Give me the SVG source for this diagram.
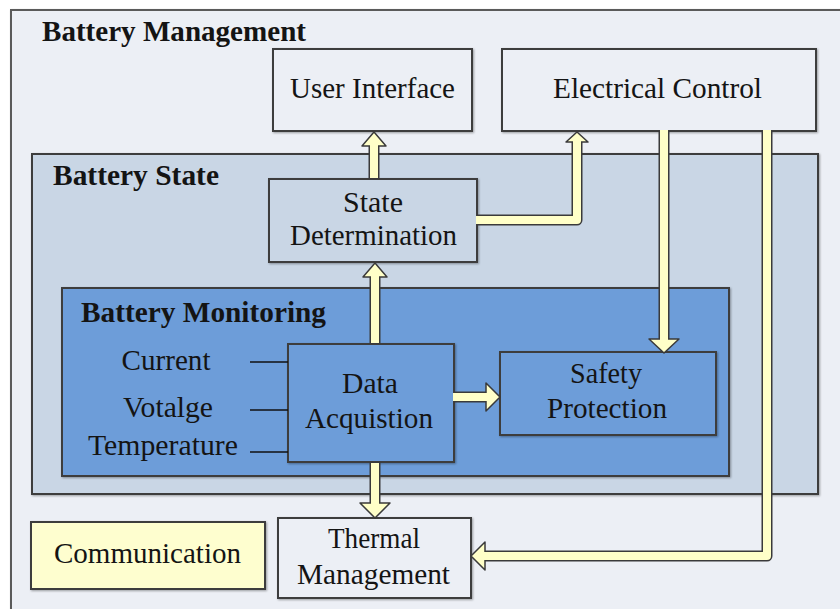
<svg xmlns="http://www.w3.org/2000/svg" width="840" height="609" viewBox="0 0 840 609">
<defs>
<filter id="sh" x="-5%" y="-5%" width="110%" height="110%"><feDropShadow dx="1" dy="1" stdDeviation="1" flood-color="#000" flood-opacity="0.35"/></filter>
</defs>
<style>
.box{stroke:#3c3c3c;stroke-width:2;filter:url(#sh)}
.outer{stroke:#5a5a5a}
.light{fill:#eceff5}
.state{fill:#c9d6e5}
.mon{fill:#6d9dd9}
.comm{fill:#fefecf}
text{font-family:"Liberation Serif","Times New Roman",serif;fill:#141414}
.t{font-size:29px;text-anchor:middle}
.h{font-size:29px;font-weight:bold}
.s{font-size:30px;text-anchor:middle}
.so{fill:none;stroke:#3a3a3a;stroke-width:11;stroke-linejoin:round}
.sf{fill:none;stroke:#ffffc8;stroke-width:8;stroke-linejoin:round}
.hd{fill:#ffffc8;stroke:#3a3a3a;stroke-width:1.5;stroke-linejoin:round}
.ln{stroke:#111;stroke-width:1.5}
</style>
<rect width="840" height="609" fill="#ffffff"/>
<g id="battery-management">
<rect class="box light outer" x="11" y="10" width="840" height="620"/>
<text class="h" x="42" y="41" textLength="264" lengthAdjust="spacingAndGlyphs">Battery Management</text>
</g>
<g id="user-interface">
<rect class="box light" x="273" y="49" width="199" height="82"/>
<text class="t" x="372.5" y="98" textLength="165" lengthAdjust="spacingAndGlyphs">User Interface</text>
</g>
<g id="electrical-control">
<rect class="box light" x="502" y="49" width="314" height="82"/>
<text class="t" x="657.5" y="98" textLength="209" lengthAdjust="spacingAndGlyphs">Electrical Control</text>
</g>
<g id="battery-state">
<rect class="box state" x="32" y="154" width="786" height="340"/>
<text class="h" x="53" y="185" textLength="166" lengthAdjust="spacingAndGlyphs">Battery State</text>
</g>
<g id="state-determination">
<rect class="box state" x="269" y="179" width="208" height="83"/>
<text class="t" x="373" y="212" textLength="60" lengthAdjust="spacingAndGlyphs">State</text>
<text class="t" x="373.5" y="245" textLength="167" lengthAdjust="spacingAndGlyphs">Determination</text>
</g>
<g id="battery-monitoring">
<rect class="box mon" x="62" y="288" width="667" height="188"/>
<text class="h" x="81" y="322" textLength="245" lengthAdjust="spacingAndGlyphs">Battery Monitoring</text>
</g>
<g id="data-acquisition">
<rect class="box mon" x="288" y="344" width="166" height="118"/>
<text class="t" x="370" y="393" textLength="56" lengthAdjust="spacingAndGlyphs">Data</text>
<text class="t" x="369" y="428" textLength="128" lengthAdjust="spacingAndGlyphs">Acquistion</text>
</g>
<g id="safety-protection">
<rect class="box mon" x="500" y="352" width="216" height="83"/>
<text class="t" x="606" y="383" textLength="72" lengthAdjust="spacingAndGlyphs">Safety</text>
<text class="t" x="607" y="418" textLength="120" lengthAdjust="spacingAndGlyphs">Protection</text>
</g>
<g id="inputs">
<text class="s" x="166" y="370" textLength="89" lengthAdjust="spacingAndGlyphs">Current</text>
<text class="s" x="168" y="417" textLength="90" lengthAdjust="spacingAndGlyphs">Votalge</text>
<text class="s" x="163" y="455" textLength="150" lengthAdjust="spacingAndGlyphs">Temperature</text>
<line class="ln" x1="250" y1="362" x2="288" y2="362"/>
<line class="ln" x1="250" y1="410" x2="288" y2="410"/>
<line class="ln" x1="250" y1="452" x2="288" y2="452"/>
</g>
<g id="communication">
<rect class="box comm" x="31" y="522" width="234" height="67"/>
<text class="t" x="147.5" y="563" textLength="187" lengthAdjust="spacingAndGlyphs">Communication</text>
</g>
<g id="thermal-management">
<rect class="box light" x="278" y="518" width="193" height="80"/>
<text class="t" x="374" y="548" textLength="92" lengthAdjust="spacingAndGlyphs">Thermal</text>
<text class="t" x="373.5" y="584" textLength="153" lengthAdjust="spacingAndGlyphs">Management</text>
</g>
<g id="connectors">
<path class="so" d="M375,344V276"/>
<path class="so" d="M374,179V145"/>
<path class="so" d="M477,220H577V141"/>
<path class="so" d="M664,131V340"/>
<path class="so" d="M767,131V556H484"/>
<path class="so" d="M454,397H487"/>
<path class="so" d="M375,462V504"/>
<polygon class="hd" points="363,277 375,263 387,277"/>
<polygon class="hd" points="362,146 374,132 386,146"/>
<polygon class="hd" points="566,142 577,132 588,142"/>
<polygon class="hd" points="649,339 664,353 679,339"/>
<polygon class="hd" points="485,542 471,556 485,570"/>
<polygon class="hd" points="486,383 500,397 486,411"/>
<polygon class="hd" points="360,503 375,518 390,503"/>
<path class="sf" d="M375,343V275"/>
<path class="sf" d="M374,178V144"/>
<path class="sf" d="M476,220H577V140"/>
<path class="sf" d="M664,130V341"/>
<path class="sf" d="M767,130V556H483"/>
<path class="sf" d="M453,397H488"/>
<path class="sf" d="M375,463V505"/>
</g>
</svg>
